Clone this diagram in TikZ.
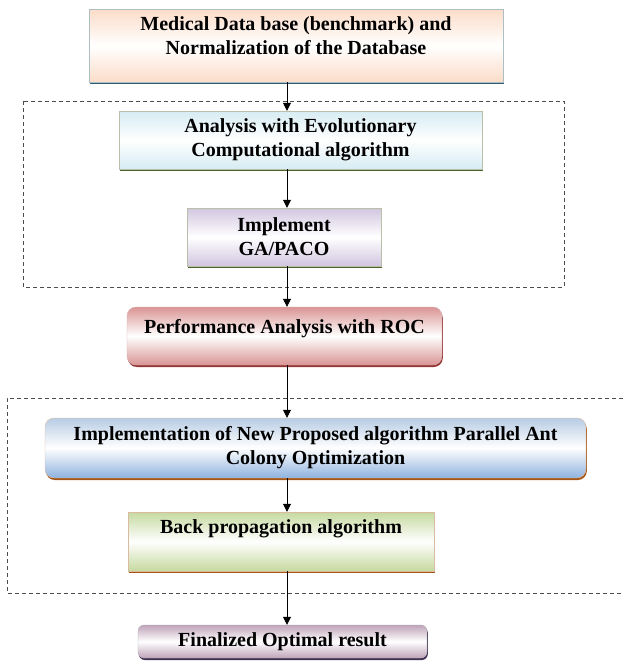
\documentclass[tikz,border=0pt]{standalone}
\usepackage{fontspec}
\setmainfont{Liberation Serif}
\usetikzlibrary{arrows.meta,shadows}

\definecolor{dbfill}{HTML}{FBDCC8}
\definecolor{dbline}{HTML}{2F5F6E}
\definecolor{ecafill}{HTML}{D6ECF3}
\definecolor{ecaline}{HTML}{4F6228}
\definecolor{gafill}{HTML}{D2C6E0}
\definecolor{rocfill}{HTML}{D99594}
\definecolor{rocline}{HTML}{943634}
\definecolor{pacotop}{HTML}{B8CCE4}
\definecolor{pacobot}{HTML}{8EB2DE}
\definecolor{pacoline}{HTML}{A65412}
\definecolor{bpfill}{HTML}{C6D9A0}
\definecolor{resfill}{HTML}{BFA3B8}
\definecolor{resline}{HTML}{3F3151}

\begin{document}
\begin{tikzpicture}[
    x=1pt, y=-1pt,
    font=\fontsize{20}{24}\selectfont\bfseries,
    box/.style={draw=#1!40!white, line width=0.4pt, align=center, inner sep=0pt,
        drop shadow={shadow xshift=0.8pt, shadow yshift=-2pt, fill=#1, opacity=1}},
    grad/.style 2 args={top color=#1, bottom color=#2, middle color=white},
    frame/.style={dash pattern=on 4pt off 3pt, line width=0.9pt, draw=black!70},
    arr/.style={-{Triangle[length=8pt, width=8pt]}, line width=0.8pt}
]
\useasboundingbox (0,0) rectangle (623,662);

% dashed group frames
\draw[frame] (23,101) rectangle (564,287);
\draw[frame] (623,398) -- (7,398) -- (7,593) -- (623,593);

\node[box=dbline, grad={dbfill}{dbfill}, minimum width=414pt, minimum height=73pt,
      text height=38pt, text depth=21pt] (db) at (296,45.5)
      {Medical Data base (benchmark) and\\Normalization of the Database};
\node[box=ecaline, grad={ecafill}{ecafill}, minimum width=363pt, minimum height=58pt] (eca) at (300.5,140)
      {Analysis with Evolutionary\\Computational algorithm};
\node[box=ecaline, grad={gafill}{gafill}, minimum width=194pt, minimum height=58pt] (ga) at (284,237)
      {Implement\\GA/PACO};
\node[box=rocline, grad={rocfill}{rocfill}, rounded corners=9pt, minimum width=315pt, minimum height=58pt,
      text height=14pt, text depth=20pt] (roc) at (284.5,336)
      {Performance Analysis with ROC};
\node[box=pacoline, grad={pacotop}{pacobot}, rounded corners=9pt, minimum width=541pt, minimum height=60pt] (paco) at (315.5,448)
      {Implementation of New Proposed algorithm Parallel Ant\\Colony Optimization};
\node[box=pacoline, grad={bpfill}{bpfill}, minimum width=306pt, minimum height=59pt,
      text height=14pt, text depth=31pt] (bp) at (281,541.5)
      {Back propagation algorithm};
\node[box=resline, grad={resfill}{resfill}, rounded corners=6pt, minimum width=289pt, minimum height=33pt,
      text height=14pt, text depth=4pt] (res) at (282.5,641.5)
      {Finalized Optimal result};

% arrows all run down one vertical line
\coordinate (ax) at (287,0);
\draw[arr] (ax |- db.south) -- (ax |- eca.north);
\draw[arr] (ax |- eca.south) -- (ax |- ga.north);
\draw[arr] (ax |- ga.south) -- (ax |- roc.north);
\draw[arr] (ax |- roc.south) -- (ax |- paco.north);
\draw[arr] (ax |- paco.south) -- (ax |- bp.north);
\draw[arr] (ax |- bp.south) -- (ax |- res.north);
\end{tikzpicture}
\end{document}
